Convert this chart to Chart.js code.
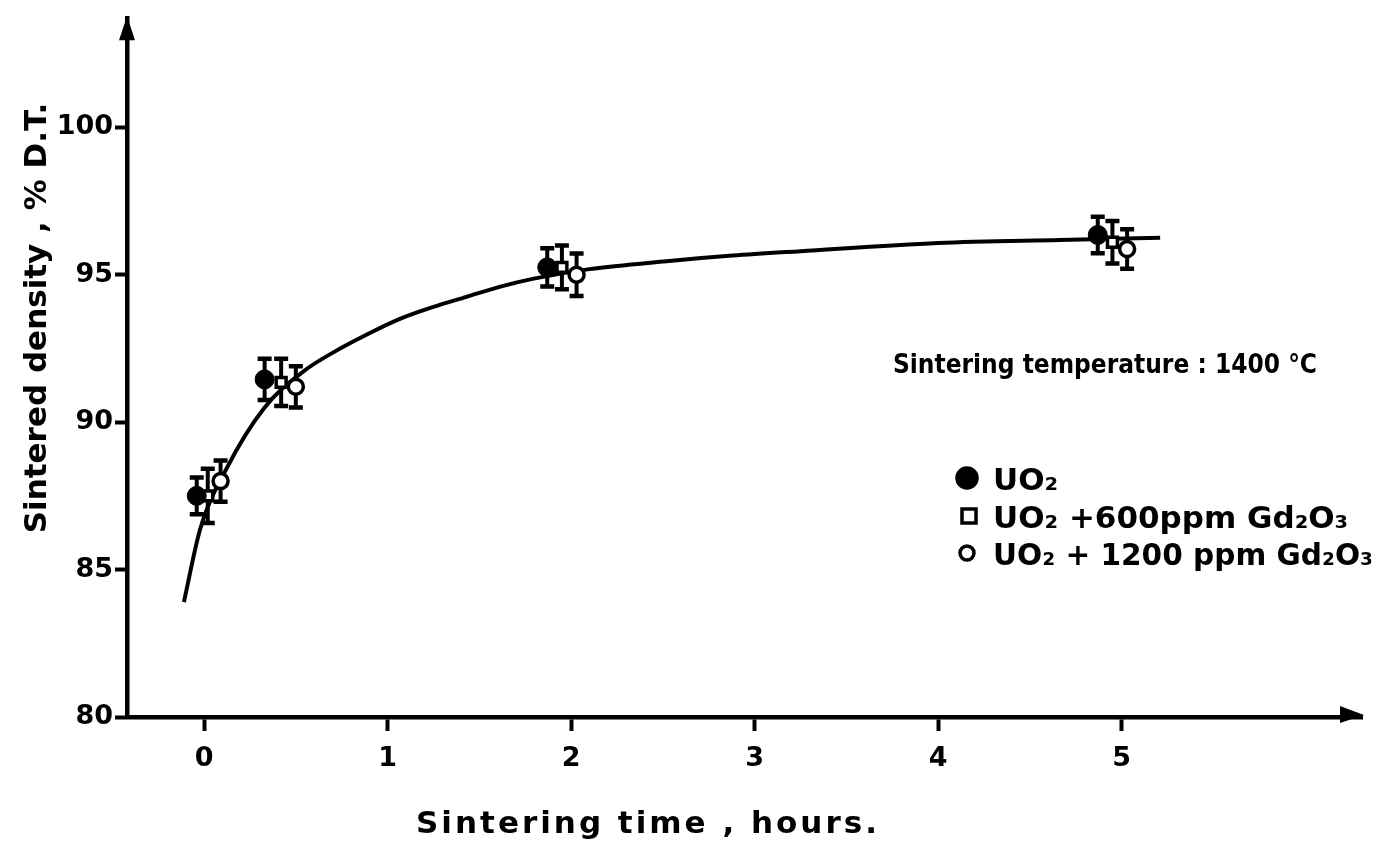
<!DOCTYPE html>
<html>
<head>
<meta charset="utf-8">
<script src="https://cdn.jsdelivr.net/npm/chart.js@4"></script>
<style>
  body { margin: 0; background: #fff; }
</style>
</head>
<body>
<canvas id="chart" width="1392" height="845"></canvas>
<script>

// values
const xTicks = [0, 1, 2, 3, 4, 5]
const yTicks = [80, 85, 90, 95, 100]

const timeUO2 = [-0.04, 0.33, 1.87, 4.87]
const densUO2 = [87.5, 91.45, 95.25, 96.35]
const errUO2 = [0.62, 0.7, 0.65, 0.62]

const time600 = [0.02, 0.42, 1.95, 4.95]
const dens600 = [87.5, 91.35, 95.25, 96.1]
const err600 = [0.92, 0.8, 0.74, 0.72]

const time1200 = [0.09, 0.50, 2.03, 5.03]
const dens1200 = [88.0, 91.2, 95.0, 95.87]
const err1200 = [0.7, 0.7, 0.72, 0.67]

const curveTime = [-0.11, -0.02, 0.12, 0.33, 0.55, 0.70, 0.89, 1.07, 1.25, 1.43, 1.61, 1.79, 2.10, 2.52, 2.88, 3.25, 4.0, 4.66, 5.21]
const curveDens = [83.9, 86.4, 88.4, 90.5, 91.76, 92.35, 92.98, 93.51, 93.91, 94.25, 94.59, 94.86, 95.19, 95.46, 95.65, 95.8, 96.08, 96.18, 96.25]

const labelUO2 = 'UO₂'
const label600 = 'UO₂ +600ppm Gd₂O₃'
const label1200 = 'UO₂ + 1200 ppm Gd₂O₃'
const note = 'Sintering temperature : 1400 °C'
const xTitle = 'Sintering time , hours.'
const yTitle = 'Sintered density , % D.T.'

function pts(xs, ys) {
    return xs.map((x, i) => ({ x: x, y: ys[i] }))
}

const handFont = '"DejaVu Sans", sans-serif'

const extras = {
    id: 'extras',
    beforeDatasetsDraw(chart) {
        // error bars under the markers
        const ctx = chart.ctx
        const xs = chart.scales.x, ys = chart.scales.y
        ctx.save()
        ctx.strokeStyle = '#000'
        chart.data.datasets.forEach(ds => {
            if (!ds.errors) return
            ds.data.forEach((p, i) => {
                const px = xs.getPixelForValue(p.x)
                const top = ys.getPixelForValue(p.y + ds.errors[i])
                const bot = ys.getPixelForValue(p.y - ds.errors[i])
                ctx.lineWidth = 4
                ctx.beginPath()
                ctx.moveTo(px, top)
                ctx.lineTo(px, bot)
                ctx.stroke()
                ctx.lineWidth = 4.5
                ctx.beginPath()
                ctx.moveTo(px - 7, top); ctx.lineTo(px + 7, top)
                ctx.moveTo(px - 7, bot); ctx.lineTo(px + 7, bot)
                ctx.stroke()
            })
        })
        ctx.restore()
    },
    afterDraw(chart) {
        const ctx = chart.ctx
        const a = chart.chartArea
        ctx.save()
        ctx.fillStyle = '#000'

        // arrow heads
        ctx.beginPath()
        ctx.moveTo(a.left, a.top - 2)
        ctx.lineTo(a.left - 8, a.top + 22)
        ctx.lineTo(a.left + 8, a.top + 22)
        ctx.closePath()
        ctx.fill()
        ctx.beginPath()
        ctx.moveTo(a.right + 2, a.bottom - 2)
        ctx.lineTo(a.right - 22, a.bottom - 11)
        ctx.lineTo(a.right - 22, a.bottom + 6)
        ctx.closePath()
        ctx.fill()

        // axis titles
        ctx.font = 'bold 31px ' + handFont
        ctx.textAlign = 'center'
        ctx.textBaseline = 'alphabetic'
        ctx.save()
        ctx.translate(46, 318)
        ctx.rotate(-Math.PI / 2)
        ctx.fillText(yTitle, 0, 0, 436)
        ctx.restore()
        ctx.font = 'bold 31px ' + handFont
        ctx.letterSpacing = '3px'
        ctx.fillText(xTitle, 648, 833, 476)
        ctx.letterSpacing = '0px'

        // annotation
        ctx.textAlign = 'left'
        ctx.font = 'bold 26px "DejaVu Sans Condensed", ' + handFont
        ctx.fillText(note, 893, 373, 425)

        // legend
        const rows = [
            { ds: chart.data.datasets[0], y: 478 },
            { ds: chart.data.datasets[1], y: 516 },
            { ds: chart.data.datasets[2], y: 553 }
        ]
        rows.forEach(r => {
            const ds = r.ds
            ctx.lineWidth = 3.5
            ctx.strokeStyle = '#000'
            ctx.fillStyle = ds.backgroundColor
            if (ds.pointStyle === 'rect') {
                ctx.fillRect(962, r.y - 7, 14, 14)
                ctx.strokeRect(962, r.y - 7, 14, 14)
            } else {
                ctx.beginPath()
                ctx.arc(967, r.y, ds.backgroundColor === '#000' ? 10 : 7, 0, Math.PI * 2)
                ctx.fill()
                ctx.stroke()
            }
            ctx.fillStyle = '#000'
            ctx.font = 'bold 31px ' + handFont
            ctx.fillText(ds.label, 993, r.y + 12, 380)
        })
        ctx.restore()
    }
}

const chart = new Chart(document.getElementById('chart'), {
    type: 'scatter',
    data: {
        datasets: [
            {
                label: labelUO2,
                data: pts(timeUO2, densUO2),
                errors: errUO2,
                pointStyle: 'circle',
                pointRadius: 9.5,
                backgroundColor: '#000',
                borderColor: '#000',
                borderWidth: 1,
                order: 1
            },
            {
                label: label600,
                data: pts(time600, dens600),
                errors: err600,
                pointStyle: 'rect',
                pointRadius: 7,
                backgroundColor: '#fff',
                borderColor: '#000',
                borderWidth: 3.5,
                order: 2
            },
            {
                label: label1200,
                data: pts(time1200, dens1200),
                errors: err1200,
                pointStyle: 'circle',
                pointRadius: 7.5,
                backgroundColor: '#fff',
                borderColor: '#000',
                borderWidth: 3.5,
                order: 3
            },
            {
                type: 'line',
                label: 'fit',
                data: pts(curveTime, curveDens),
                borderColor: '#000',
                borderWidth: 4,
                pointRadius: 0,
                cubicInterpolationMode: 'monotone',
                fill: false,
                order: 10
            }
        ]
    },
    options: {
        responsive: false,
        animation: false,
        layout: { padding: { top: 12, right: 30, left: 0, bottom: 0 } },
        plugins: {
            legend: { display: false },
            tooltip: { enabled: false }
        },
        scales: {
            x: {
                type: 'linear',
                min: -0.42,
                max: 6.31,
                afterBuildTicks: (s) => { s.ticks = xTicks.map(v => ({ value: v })) },
                afterFit: (s) => { s.height = 128 },
                border: { display: true, color: '#000', width: 4.5 },
                grid: { drawOnChartArea: false, drawTicks: true, tickLength: 14, tickWidth: 4, tickColor: '#000' },
                ticks: { color: '#000', padding: 12, font: { family: handFont, size: 27, weight: 'bold' } }
            },
            y: {
                min: 80,
                max: 103.7,
                afterBuildTicks: (s) => { s.ticks = yTicks.map(v => ({ value: v })) },
                afterFit: (s) => { s.width = 127 },
                border: { display: true, color: '#000', width: 4.5 },
                grid: { drawOnChartArea: false, drawTicks: true, tickLength: 12, tickWidth: 4, tickColor: '#000' },
                ticks: { color: '#000', padding: 2, font: { family: handFont, size: 27, weight: 'bold' } }
            }
        }
    },
    plugins: [extras]
})
</script>
</body>
</html>
